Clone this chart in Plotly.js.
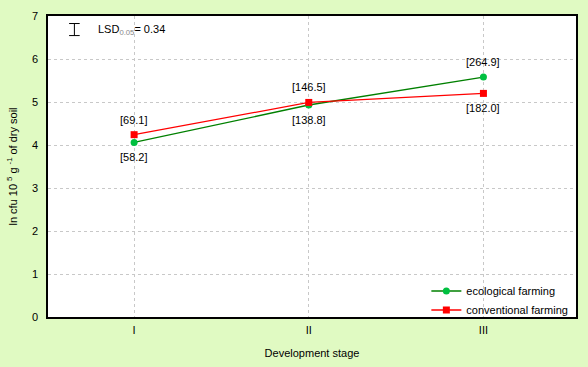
<!DOCTYPE html>
<html><head><meta charset="utf-8">
<script src="https://cdn.plot.ly/plotly-3.0.1.min.js"></script>
<style>body{margin:0;padding:0;}#c{width:588px;height:367px;}</style>
</head><body><div id="c"></div>
<script>
const stages = ["I", "II", "III"];
const stageX = [1, 2, 3];
const ecoValues = [4.06, 4.93, 5.58];
const convValues = [4.24, 4.99, 5.20];
const ecoLabels = ["[58.2]", "[138.8]", "[264.9]"];
const convLabels = ["[69.1]", "[146.5]", "[182.0]"];
const ecoShift = [-15, -15, 15];
const convShift = [15, 15, -15];

const font = {family: "Liberation Sans, Arial, sans-serif", size: 11, color: "#000"};
const traces = [
  {x: stageX, y: ecoValues, name: "ecological farming", mode: "lines+markers",
   line: {color: "#008000", width: 1.3}, marker: {color: "#00C040", size: 7, symbol: "circle"}},
  {x: stageX, y: convValues, name: "conventional farming", mode: "lines+markers",
   line: {color: "#FF0000", width: 1.3}, marker: {color: "#FF0000", size: 7, symbol: "square"}}
];
const annotations = [
  {xref: "paper", yref: "paper", x: 0.09, y: 0.955, xanchor: "left", yanchor: "middle", showarrow: false,
   text: "LSD<sub><span style='color:#888'>0.05</span></sub>= 0.34", font: font}
];
stageX.forEach((x, i) => {
  annotations.push({x: x, y: ecoValues[i], text: ecoLabels[i], showarrow: false, yshift: ecoShift[i], font: font});
  annotations.push({x: x, y: convValues[i], text: convLabels[i], showarrow: false, yshift: convShift[i], font: font});
});
const layout = {
  width: 588, height: 367,
  margin: {l: 48, r: 12, t: 16, b: 50},
  paper_bgcolor: "#E0FAC2", plot_bgcolor: "#FFFFFF",
  font: font, showlegend: true,
  legend: {x: 0.995, y: -0.025, xanchor: "right", yanchor: "bottom", bgcolor: "rgba(0,0,0,0)",
           font: {family: "Liberation Sans, Arial, sans-serif", size: 11}, tracegroupgap: 0,
           itemwidth: 30},
  xaxis: {range: [0.507, 3.53], tickvals: stageX, ticktext: stages, showgrid: true,
          gridcolor: "#C8C8C8", griddash: "dot", gridwidth: 1, zeroline: false,
          showline: true, linecolor: "#000", mirror: true, linewidth: 1.5, ticks: "",
          ticklabelstandoff: 2,
          title: {text: "Development stage", font: font, standoff: 14}},
  yaxis: {range: [0, 7], dtick: 1, showgrid: true, gridcolor: "#C8C8C8", griddash: "dot",
          zeroline: false, showline: true, linecolor: "#000", mirror: true, linewidth: 1.5,
          ticks: "", ticklabelstandoff: 6,
          title: {text: "ln cfu 10 <sup>5</sup> g <sup>-1</sup> of dry soil", font: font, standoff: 12}},
  shapes: [
    {type: "line", xref: "paper", yref: "paper", x0: 0.05, x1: 0.05, y0: 0.935, y1: 0.975, line: {color: "#000", width: 1}},
    {type: "line", xref: "paper", yref: "paper", x0: 0.04, x1: 0.06, y0: 0.975, y1: 0.975, line: {color: "#000", width: 1}},
    {type: "line", xref: "paper", yref: "paper", x0: 0.04, x1: 0.06, y0: 0.935, y1: 0.935, line: {color: "#000", width: 1}}
  ],
  annotations: annotations
};
Plotly.newPlot("c", traces, layout, {displayModeBar: false});
</script></body></html>
